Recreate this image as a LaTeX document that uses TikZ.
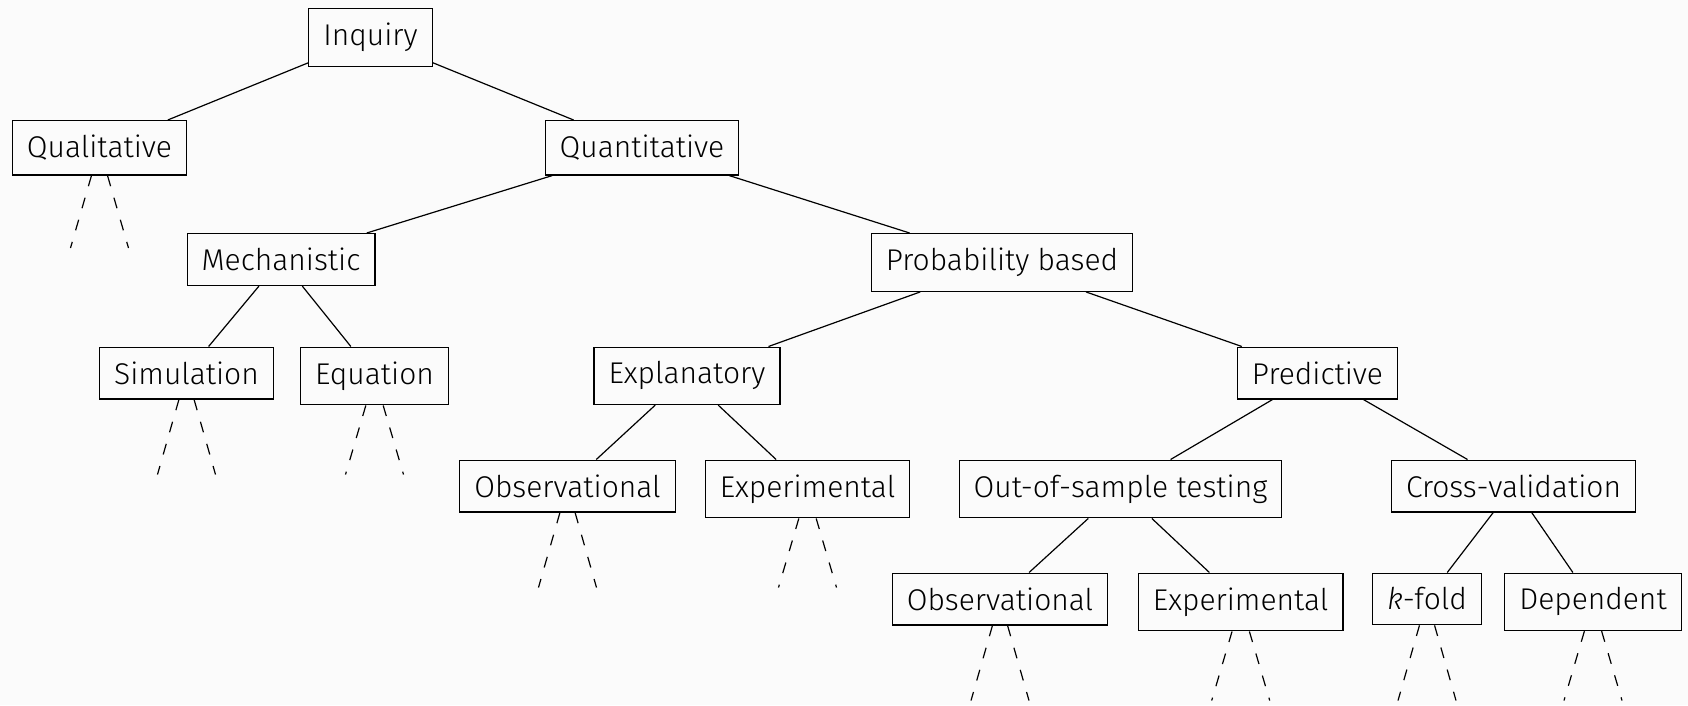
\documentclass[tikz,border=0pt]{standalone}
\usepackage{fontspec}
\setmainfont{Fira Sans Light}
\usetikzlibrary{calc}
\definecolor{bgc}{RGB}{251,251,251}
\begin{document}
\begin{tikzpicture}[x=1pt,y=-1pt,
  box/.style={draw, line width=1.2pt, inner sep=14.5pt, anchor=north,
              font=\fontsize{30}{36}\selectfont},
  edge/.style={line width=1.2pt},
  stub/.style={line width=1.2pt, dash pattern=on 11pt off 12pt}]
\fill[bgc] (0,0) rectangle (1688,705);
\useasboundingbox (0,0) rectangle (1688,705);

% level 0
\node[box] (inq)  at (370.5,8)    {Inquiry};
% level 1
\node[box] (qual) at (99.5,120)   {Qualitative};
\node[box] (quan) at (642,120)    {Quantitative};
% level 2
\node[box] (mech) at (281,233)    {Mechanistic};
\node[box] (prob) at (1002,233)   {Probability based};
% level 3
\node[box] (sim)  at (186.5,346.5) {Simulation};
\node[box] (equ)  at (374.5,346.5) {Equation};
\node[box] (expl) at (687,346.5)   {Explanatory};
\node[box] (pred) at (1317.5,346.5) {Predictive};
% level 4
\node[box] (obsA) at (567.5,459.5)  {Observational};
\node[box] (expA) at (807.5,459.5)  {Experimental};
\node[box] (oos)  at (1120.5,459.5) {Out-of-sample testing};
\node[box] (cv)   at (1513.5,459.5) {Cross-validation};
% level 5
\node[box] (obsB) at (1000,572.5)   {Observational};
\node[box] (expB) at (1240.7,572.5) {Experimental};
\node[box] (kf)   at (1427,572.5)   {\textit{k}-fold};
\node[box] (dep)  at (1593,572.5)   {Dependent};

% tree edges
\foreach \p/\c in {inq/qual, inq/quan, quan/mech, quan/prob,
                   mech/sim, mech/equ, prob/expl, prob/pred,
                   expl/obsA, expl/expA, pred/oos, pred/cv,
                   oos/obsB, oos/expB, cv/kf, cv/dep}
  \draw[edge] (\p) -- (\c);

% dashed stubs below the leaves
\foreach \n in {qual, sim, equ, obsA, expA, obsB, expB, kf, dep} {
  \coordinate (\n-l) at ($(\n.north)+(-29,128)$);
  \coordinate (\n-r) at ($(\n.north)+(29,128)$);
  \draw[stub] (\n) -- (\n-l);
  \draw[stub] (\n) -- (\n-r);
}
\end{tikzpicture}
\end{document}
